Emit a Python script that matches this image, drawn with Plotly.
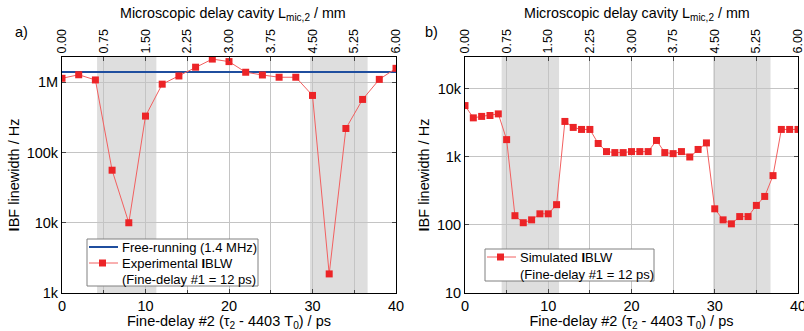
import plotly.graph_objects as go

# ---- data ----
fd_exp = [0, 2, 4, 6, 8, 10, 12, 14, 16, 18, 20, 22, 24, 26, 28, 30, 32, 34, 36, 38, 40]
lw_exp = [1.14e6, 1.28e6, 1.08e6, 5.6e4, 1.0e4, 3.3e5, 9.4e5, 1.23e6, 1.64e6, 2.14e6, 1.97e6,
          1.39e6, 1.27e6, 1.18e6, 1.18e6, 6.5e5, 1.87e3, 2.2e5, 5.7e5, 1.10e6, 1.58e6]
free_running = 1.4e6

fd_sim = list(range(0, 41))
lw_sim = [5700, 3760, 3950, 4070, 4300, 1800, 137, 108, 119, 146, 146, 199,
          3330, 2720, 2540, 2540, 1580, 1200, 1160, 1160, 1200, 1200, 1200, 1750,
          1160, 1120, 1200, 1000, 1290, 1610, 173, 119, 104, 133, 133, 194, 263, 532,
          2540, 2540, 2540]

shade_left = [(4.2, 11.3), (29.7, 36.6)]
shade_right = [(4.4, 11.3), (29.8, 36.7)]

ps_per_mm = 40 / 6.0
top_ticks = [0, 0.75, 1.5, 2.25, 3.0, 3.75, 4.5, 5.25, 6.0]
top_labels = ["0.00", "0.75", "1.50", "2.25", "3.00", "3.75", "4.50", "5.25", "6.00"]

yl_vals = [1e3, 1e4, 1e5, 1e6]
yl_text = ["1k", "10k", "100k", "1M"]
yr_vals = [10, 100, 1e3, 1e4]
yr_text = ["10", "100", "1k", "10k"]

legend_left = ["Free-running (1.4 MHz)", "Experimental <b>I</b>BLW", "(Fine-delay #1 = 12 ps)"]
legend_right = ["Simulated <b>I</b>BLW", "(Fine-delay #1 = 12 ps)"]

# ---- style ----
FONT = "Liberation Sans, Arial, sans-serif"
RED = "#EC2427"
RED_LINE = "#F26060"
BLUE = "#1F4E9E"
GRID = "#c4c4c4"
SHADE = "#dedede"
W, H = 804, 331
TF = 14.5

def px_x(p):
    return p / W

def px_y(p):
    return 1 - p / H

y0, y1 = px_y(293), px_y(57)
dl = [px_x(62), px_x(396)]
dr = [px_x(465), px_x(798)]

fig = go.Figure()

fig.add_trace(go.Scatter(x=[0, 40], y=[free_running, free_running], mode="lines",
                         line=dict(color=BLUE, width=2), showlegend=False,
                         xaxis="x", yaxis="y"))
fig.add_trace(go.Scatter(x=fd_exp, y=lw_exp, mode="lines+markers",
                         line=dict(color=RED_LINE, width=1),
                         marker=dict(symbol="square", size=7, color=RED),
                         showlegend=False, xaxis="x", yaxis="y"))
fig.add_trace(go.Scatter(x=fd_sim, y=lw_sim, mode="lines+markers",
                         line=dict(color=RED_LINE, width=1),
                         marker=dict(symbol="square", size=7, color=RED),
                         showlegend=False, xaxis="x2", yaxis="y2"))
# invisible copies on the top (mm) axes so that they are drawn
fig.add_trace(go.Scatter(x=[v / ps_per_mm for v in fd_exp], y=lw_exp, mode="markers",
                         marker=dict(opacity=0), showlegend=False, hoverinfo="skip",
                         xaxis="x3", yaxis="y"))
fig.add_trace(go.Scatter(x=[v / ps_per_mm for v in fd_sim], y=lw_sim, mode="markers",
                         marker=dict(opacity=0), showlegend=False, hoverinfo="skip",
                         xaxis="x4", yaxis="y2"))

shapes = []
for a, b in shade_left:
    shapes.append(dict(type="rect", xref="x", yref="y domain", x0=a, x1=b, y0=0, y1=1,
                       fillcolor=SHADE, line=dict(width=0), layer="below"))
for a, b in shade_right:
    shapes.append(dict(type="rect", xref="x2", yref="y2 domain", x0=a, x1=b, y0=0, y1=1,
                       fillcolor=SHADE, line=dict(width=0), layer="below"))

annotations = []

def add_legend(box, rows):
    bx0, by0, bx1, by1 = box
    shapes.append(dict(type="rect", xref="paper", yref="paper", x0=px_x(bx0), x1=px_x(bx1),
                       y0=px_y(by1), y1=px_y(by0), fillcolor="white",
                       line=dict(color="#808080", width=1), layer="above"))
    for text, ty, sample in rows:
        if sample == "blue":
            shapes.append(dict(type="line", xref="paper", yref="paper",
                               x0=px_x(bx0 + 2), x1=px_x(bx0 + 31), y0=px_y(ty), y1=px_y(ty),
                               line=dict(color=BLUE, width=2), layer="above"))
        elif sample == "red":
            shapes.append(dict(type="line", xref="paper", yref="paper",
                               x0=px_x(bx0 + 2), x1=px_x(bx0 + 31), y0=px_y(ty), y1=px_y(ty),
                               line=dict(color=RED_LINE, width=1), layer="above"))
            cx = bx0 + 15.5
            shapes.append(dict(type="rect", xref="paper", yref="paper",
                               x0=px_x(cx - 3.5), x1=px_x(cx + 3.5),
                               y0=px_y(ty + 3.5), y1=px_y(ty - 3.5),
                               fillcolor=RED, line=dict(width=0), layer="above"))
        annotations.append(dict(text=text, x=px_x(bx0 + 33), y=px_y(ty), xref="paper",
                                yref="paper", xanchor="left", yanchor="middle",
                                showarrow=False, font=dict(family=FONT, size=13)))

add_legend((87, 239, 258, 286), [(legend_left[0], 247, "blue"),
                                  (legend_left[1], 263, "red"),
                                  (legend_left[2], 279, None)])
add_legend((485, 249, 654, 281), [(legend_right[0], 257, "red"),
                                   (legend_right[1], 274, None)])

tickfont = dict(family=FONT, size=TF, color="black")
xbottom = dict(range=[0, 40], tick0=0, dtick=10, ticks="inside", ticklen=4,
               showline=True, linecolor="black", linewidth=1, showgrid=False,
               zeroline=False, tickfont=tickfont, automargin=False,
               ticklabeloverflow="allow",
               minor=dict(ticks="inside", dtick=5, ticklen=3, showgrid=False),
               title=dict(text="Fine-delay #2 (τ<sub>2</sub> - 4403 T<sub>0</sub>) / ps",
                          font=dict(family=FONT, size=TF), standoff=0))
xtop = dict(range=[0, 6], tickvals=top_ticks, ticktext=top_labels, tickangle=-90,
            side="top", ticks="inside", ticklen=4, showline=True, linecolor="black",
            linewidth=1, showgrid=True, gridcolor=GRID, gridwidth=1, zeroline=False,
            automargin=False, ticklabeloverflow="allow",
            tickfont=dict(family=FONT, size=12.5, color="black"))

def yax(vals, text, rng):
    return dict(type="log", range=rng, tickvals=vals, ticktext=text, ticks="inside",
                ticklen=4, showline=True, linecolor="black", linewidth=1, mirror="ticks",
                showgrid=True, gridcolor=GRID, gridwidth=1, zeroline=False,
                tickfont=tickfont, domain=[y0, y1], automargin=False,
                title=dict(text="<b>I</b>BF linewidth / Hz", font=dict(family=FONT, size=TF),
                           standoff=3))

for lbl, cx in (("a)", 21), ("b)", 431)):
    annotations.append(dict(text=lbl, x=px_x(cx), y=px_y(32), xref="paper", yref="paper",
                            xanchor="center", yanchor="middle", showarrow=False,
                            font=dict(family=FONT, size=TF)))
for cx in (233, 637):
    annotations.append(dict(text="Microscopic delay cavity L<sub>mic,2</sub> / mm",
                            x=px_x(cx), y=px_y(14), xref="paper", yref="paper",
                            xanchor="center", yanchor="middle", showarrow=False,
                            font=dict(family=FONT, size=14.3)))

fig.update_layout(
    width=W, height=H, margin=dict(l=0, r=0, t=0, b=0, autoexpand=False),
    paper_bgcolor="white", plot_bgcolor="white",
    font=dict(family=FONT, size=13, color="black"),
    showlegend=False,
    xaxis=dict(xbottom, domain=dl, anchor="y"),
    xaxis2=dict(xbottom, domain=dr, anchor="y2"),
    xaxis3=dict(xtop, domain=dl, anchor="y", overlaying="x"),
    xaxis4=dict(xtop, domain=dr, anchor="y2", overlaying="x2"),
    yaxis=dict(yax(yl_vals, yl_text, [3, 6.36]), anchor="x"),
    yaxis2=dict(yax(yr_vals, yr_text, [1, 4.47]), anchor="x2"),
    shapes=shapes,
    annotations=annotations,
)

fig.write_html("out.html", config={"displayModeBar": False},
               post_script="document.body.style.margin='0';document.body.style.overflow='hidden';")
